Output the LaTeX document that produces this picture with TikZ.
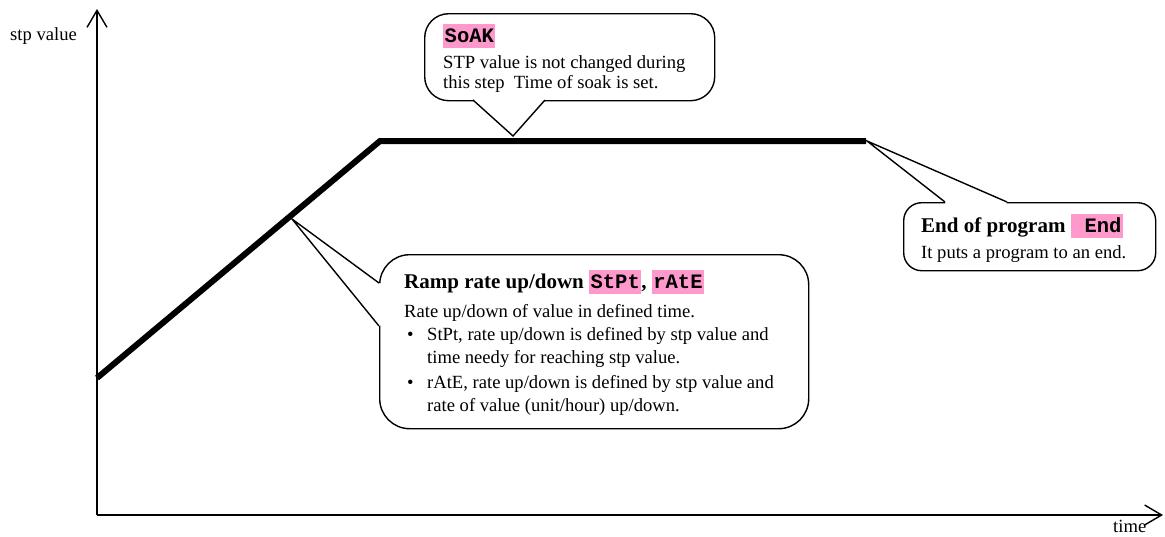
\documentclass[tikz,border=0pt]{standalone}
\usepackage{fontspec}
\setmainfont{Liberation Serif}
\setmonofont{Liberation Mono}
\usetikzlibrary{arrows.meta,positioning}
\definecolor{hilite}{RGB}{255,153,204}
\newcommand\hl[1]{{\setlength\fboxsep{0pt}\colorbox{hilite}{\ttfamily\bfseries\fontsize{20.5}{20.5}\selectfont\rule[-6pt]{0pt}{24pt}\hspace{1.5pt}#1\hspace{1.5pt}}}}
\tikzset{
axis/.style={line width=1.4pt, -{Straight Barb[length=17pt,width=20pt]}}, % axes with open heads
curve/.style={line width=6pt}, % the stp profile
bubble/.style={draw, line width=1.4pt, fill=white, anchor=north west}, % callout boxes
pointer/.style={line width=1.4pt}, % callout tails
eraser/.style={fill=white}, % hides the box edge under a tail
txt/.style={anchor=base west, inner sep=0pt, font=\fontsize{18.6}{20}\selectfont},
head/.style={txt, font=\fontsize{21}{22}\selectfont\bfseries},
}

\begin{document}
\begin{tikzpicture}[x=1pt, y=-1pt]
\useasboundingbox (0,0) rectangle (1165,536);
% axes
\coordinate (origin) at (97,515);
\coordinate (ytip) at (97,9);
\coordinate (xtip) at (1163,515);
\draw[axis] (origin) -- (ytip);
\draw[axis] (origin) -- (xtip);
\node[txt] (ylabel) at (10,40) {stp value};
\node[txt] (xlabel) at (1113,532) {time};
% profile
\coordinate (start) at (97,378);
\coordinate (top) at (380,141);
\coordinate (stop) at (866,141);
\draw[curve] (start) -- (top) -- (stop);
% soak callout
\node[bubble, rounded corners=24pt, minimum width=290pt, minimum height=87pt] (soak) at (424,13) {};
\coordinate (soaktip) at (513,136);
\coordinate (soakl) at (473,100);
\coordinate (soakr) at (545,100);
\fill[eraser] (474,97) -- (soakl) -- (soaktip) -- (soakr) -- (544,97) -- cycle;
\draw[pointer] (soakl) -- (soaktip) -- (soakr);
\node[txt] (soakhead) at (443,42) {\hl{SoAK}};
\node[txt] (soak1) at (443,68) {STP value is not changed during};
\node[txt] (soak2) at (443,88) {this step\ \ Time of soak is set.};
% end callout
\node[bubble, rounded corners=18pt, minimum width=252pt, minimum height=68pt] (end) at (903,202) {};
\coordinate (endtip) at (867,141);
\coordinate (endl) at (945,202);
\coordinate (endr) at (1007,202);
\fill[eraser] (946,205) -- (endl) -- (endtip) -- (endr) -- (1006,205) -- cycle;
\draw[pointer] (endl) -- (endtip) -- (endr);
\node[head] (endhead) at (921,232) {End of program \hl{\ End}};
\node[txt] (end1) at (921,258) {It puts a program to an end.};
% ramp callout
\node[bubble, rounded corners=30pt, minimum width=429pt, minimum height=174pt] (ramp) at (379,254) {};
\coordinate (ramptip) at (292,219);
\coordinate (rampa) at (379,283);
\coordinate (rampb) at (379,326);
\fill[eraser] (382,284) -- (rampa) -- (ramptip) -- (rampb) -- (382,325) -- cycle;
\draw[pointer] (rampa) -- (ramptip) -- (rampb);
\node[head] (ramphead) at (404,288) {Ramp rate up/down \hl{StPt}, \hl{rAtE}};
\node[txt] (ramp1) at (404,317) {Rate up/down of value in defined time.};
\node[txt] (bul1) at (407,340) {\textbullet};
\node[txt] (ramp2) at (427,340) {StPt, rate up/down is defined by stp value and};
\node[txt] (ramp3) at (427,363) {time needy for reaching stp value.};
\node[txt] (bul2) at (407,388) {\textbullet};
\node[txt] (ramp4) at (427,388) {rAtE, rate up/down is defined by stp value and};
\node[txt] (ramp5) at (427,411) {rate of value (unit/hour) up/down.};
\end{tikzpicture}
\end{document}
